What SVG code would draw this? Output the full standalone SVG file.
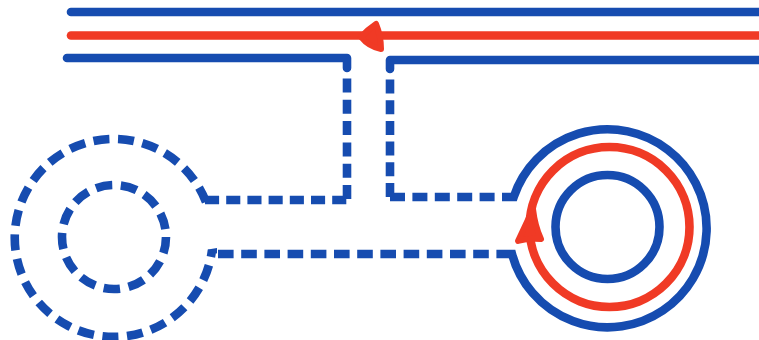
<svg xmlns="http://www.w3.org/2000/svg" width="759" height="340" viewBox="0 0 759 340">
<style>
.b{fill:none;stroke:#164cb0;stroke-width:8.600;stroke-linecap:round;stroke-linejoin:round}
.r{fill:none;stroke:#f03a25;stroke-width:8.600;stroke-linecap:round}
.d{fill:none;stroke:#164cb0;stroke-width:8.600;stroke-linecap:butt;stroke-linejoin:miter}
.h{fill:#f03a25;stroke:#f03a25;stroke-width:6;stroke-linejoin:round}
</style>
<rect width="759" height="340" fill="#fff"/>
<g id="connectors">
<path class="b" d="M71,12H759"/>
<path class="r" d="M71,35.500H759"/>
<path class="b" d="M67,58H347V68"/>
<path class="b" d="M759,60H390V69"/>
<path class="d" d="M347,199V72" stroke-dasharray="14 7.300"/>
<path class="d" d="M390,197V73" stroke-dasharray="14 6.700"/>
<path class="d" d="M205,200H347" stroke-dasharray="14.100 7.100"/>
<path class="d" d="M390,197H503" stroke-dasharray="15 7.400"/>
<path class="d" d="M218,254H497" stroke-dasharray="15.600 7.600"/>
<path d="M361,37Q367,30 376,24Q381,36 381,49Q369,47 361,37Z" class="h"/>
</g>
<g id="left-tube">
<path class="d" d="M206,202A99,99 0 1 0 212,250" stroke-dasharray="16 8.600"/>
<polygon points="208,249.500 217,248 217,253.500 208,252" fill="#164cb0"/>
<circle class="d" cx="114" cy="237" r="52" stroke-dasharray="16.500 8.650"/>
</g>
<g id="right-tube">
<path class="d" d="M503,197H513.700A99,99 0 1 1 512,254H497"/>
<circle class="r" cx="609.500" cy="227" r="80"/>
<circle class="d" cx="607.500" cy="227" r="52"/>
<path d="M533,209Q535,226 541,239Q528,238 518,241Q525,226 533,209Z" class="h"/>
</g>
</svg>
